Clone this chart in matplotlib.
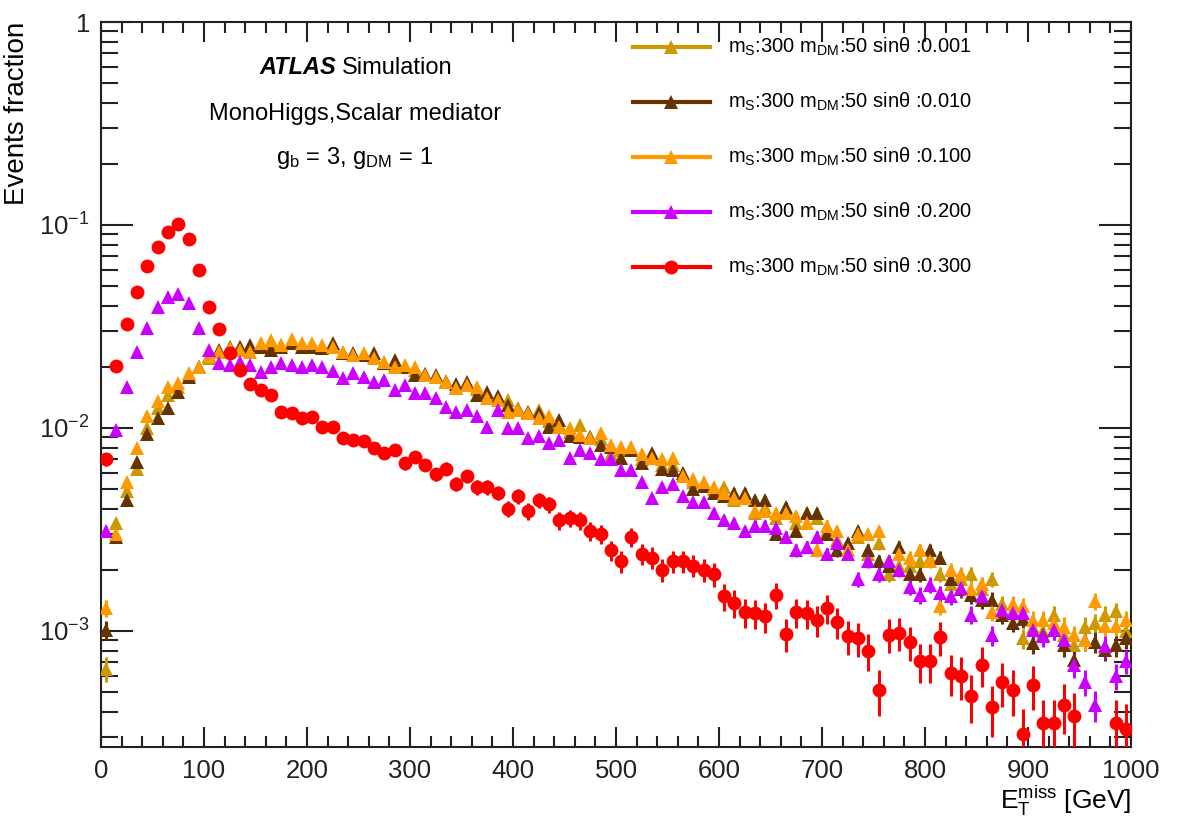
import numpy as np
import matplotlib
matplotlib.use("Agg")
import matplotlib.pyplot as plt
from matplotlib.lines import Line2D
from matplotlib.ticker import FixedLocator, FixedFormatter, LogLocator, NullFormatter, MultipleLocator

plt.rcParams['font.family'] = ['Liberation Sans', 'DejaVu Sans']
plt.rcParams['mathtext.fontset'] = 'custom'
plt.rcParams['mathtext.rm'] = 'Liberation Sans'
plt.rcParams['mathtext.it'] = 'Liberation Sans:italic'
plt.rcParams['mathtext.bf'] = 'Liberation Sans:bold'

# MET bin centres, 10 GeV bins from 0 to 1000
met = np.arange(5, 1000, 10)

sin_theta = ["0.001", "0.010", "0.100", "0.200", "0.300"]

frac_001 = [
    0.00065, 0.0034, 0.0049, 0.0063, 0.0100, 0.0125, 0.0145, 0.0160, 0.0182, 0.0200,
    0.0222, 0.0238, 0.0245, 0.0250, 0.0250, 0.0255, 0.0258, 0.0255, 0.0265, 0.0258,
    0.0255, 0.0250, 0.0255, 0.0235, 0.0230, 0.0230, 0.0225, 0.0210, 0.0205, 0.0200,
    0.0192, 0.0185, 0.0178, 0.0170, 0.0160, 0.0162, 0.0155, 0.0145, 0.0140, 0.0137,
    0.0125, 0.0120, 0.0123, 0.0108, 0.0105, 0.0096, 0.0103, 0.0090, 0.0088, 0.0074,
    0.0078, 0.0080, 0.0070, 0.0072, 0.0066, 0.0066, 0.0058, 0.0054, 0.0053, 0.0050,
    0.0051, 0.0044, 0.0046, 0.0038, 0.0041, 0.0036, 0.0040, 0.0034, 0.0038, 0.0036,
    0.0031, 0.0028, 0.0025, 0.0029, 0.0024, 0.0027, 0.0019, 0.0021, 0.0021, 0.0022,
    0.0023, 0.0019, 0.0017, 0.0018, 0.0019, 0.0016, 0.0018, 0.00135, 0.00125, 0.00092,
    0.00105, 0.00100, 0.00120, 0.00095, 0.00085, 0.00105, 0.00110, 0.00120, 0.00125, 0.00100,
]
frac_010 = [
    0.00101, 0.0029, 0.0044, 0.0068, 0.0093, 0.0112, 0.0125, 0.0151, 0.0179, 0.0200,
    0.0225, 0.0242, 0.0251, 0.0251, 0.0256, 0.0251, 0.0242, 0.0251, 0.0261, 0.0251,
    0.0251, 0.0247, 0.0261, 0.0233, 0.0233, 0.0229, 0.0233, 0.0208, 0.0216, 0.0200,
    0.0182, 0.0185, 0.0182, 0.0169, 0.0165, 0.0169, 0.0145, 0.0150, 0.0143, 0.0130,
    0.0123, 0.0120, 0.0118, 0.0101, 0.0109, 0.0091, 0.0090, 0.0090, 0.0082, 0.0081,
    0.0071, 0.0078, 0.0067, 0.0075, 0.0063, 0.0062, 0.0060, 0.0050, 0.0052, 0.0048,
    0.0046, 0.0048, 0.0048, 0.0044, 0.0044, 0.0030, 0.0041, 0.0031, 0.0038, 0.0038,
    0.0030, 0.0025, 0.0027, 0.0031, 0.0025, 0.0022, 0.0021, 0.0026, 0.0019, 0.0019,
    0.0025, 0.0023, 0.0018, 0.0016, 0.0015, 0.00142, 0.00142, 0.00120, 0.00110, 0.00115,
    0.00087, 0.00095, 0.00101, 0.00085, 0.00072, 0.00090, 0.00088, 0.00081, 0.00085, 0.00092,
]
frac_100 = [
    0.0013, 0.0030, 0.0054, 0.0080, 0.0114, 0.0135, 0.0160, 0.0166, 0.0186, 0.0200,
    0.0225, 0.0238, 0.0247, 0.0242, 0.0238, 0.0261, 0.0271, 0.0256, 0.0273, 0.0261,
    0.0261, 0.0256, 0.0251, 0.0238, 0.0229, 0.0233, 0.0220, 0.0212, 0.0200, 0.0204,
    0.0200, 0.0182, 0.0179, 0.0169, 0.0157, 0.0163, 0.0160, 0.0140, 0.0137, 0.0120,
    0.0123, 0.0118, 0.0112, 0.0114, 0.0101, 0.0100, 0.0092, 0.0089, 0.0094, 0.0082,
    0.0081, 0.0081, 0.0074, 0.0071, 0.0070, 0.0071, 0.0058, 0.0056, 0.0054, 0.0051,
    0.0048, 0.0045, 0.0045, 0.0039, 0.0039, 0.0038, 0.0038, 0.0037, 0.0034, 0.0025,
    0.0033, 0.0031, 0.0025, 0.0030, 0.0030, 0.0031, 0.0022, 0.0024, 0.0023, 0.0025,
    0.0022, 0.00132, 0.0020, 0.0019, 0.0016, 0.0017, 0.00124, 0.00127, 0.00135, 0.00132,
    0.00113, 0.00113, 0.00110, 0.00105, 0.00095, 0.00090, 0.00140, 0.00106, 0.00106, 0.00113,
]
frac_200 = [
    0.0031, 0.0098, 0.0160, 0.0238, 0.0310, 0.0394, 0.0444, 0.0457, 0.0414, 0.0310,
    0.0242, 0.0208, 0.0204, 0.0212, 0.0204, 0.0189, 0.0200, 0.0208, 0.0204, 0.0200,
    0.0204, 0.0200, 0.0191, 0.0176, 0.0186, 0.0179, 0.0169, 0.0172, 0.0154, 0.0163,
    0.0148, 0.0148, 0.0140, 0.0127, 0.0120, 0.0123, 0.0114, 0.0101, 0.0123, 0.0100,
    0.0100, 0.0089, 0.0091, 0.0084, 0.0087, 0.0071, 0.0078, 0.0075, 0.0070, 0.0070,
    0.0062, 0.0062, 0.0054, 0.0045, 0.0051, 0.0053, 0.0046, 0.0043, 0.0043, 0.0038,
    0.0035, 0.0034, 0.0031, 0.0033, 0.0033, 0.0032, 0.0029, 0.0025, 0.0026, 0.0029,
    0.0024, 0.0027, 0.0024, 0.0018, 0.0022, 0.0019, 0.0022, 0.0020, 0.00165, 0.00150,
    0.00169, 0.00153, 0.00148, 0.00162, 0.00120, 0.00148, 0.00095, 0.00127, 0.00122, 0.00122,
    0.00101, 0.00094, 0.00101, 0.00090, 0.00068, 0.00056, 0.00043, 0.00084, 0.00060, 0.00071,
]
# empty bins are left as nan
frac_300 = [
    0.0070, 0.0202, 0.0325, 0.047, 0.0628, 0.0777, 0.092, 0.101, 0.085, 0.060,
    0.0396, 0.0306, 0.0233, 0.0193, 0.0164, 0.0153, 0.0145, 0.0120, 0.0118, 0.0112,
    0.0113, 0.0101, 0.0101, 0.0089, 0.0087, 0.0086, 0.0080, 0.0075, 0.0078, 0.0067,
    0.0072, 0.0066, 0.0059, 0.0063, 0.0053, 0.0058, 0.0051, 0.0051, 0.0048, 0.0040,
    0.0046, 0.0039, 0.0044, 0.0042, 0.0035, 0.0036, 0.0035, 0.0031, 0.0030, 0.0025,
    0.0022, 0.0029, 0.0024, 0.0023, 0.0020, 0.0022, 0.0022, 0.0021, 0.0020, 0.0019,
    0.00148, 0.00137, 0.00124, 0.00122, 0.00118, 0.00150, 0.00097, 0.00124, 0.00122, 0.00113,
    0.00129, 0.00111, 0.00094, 0.00092, 0.00080, 0.00051, 0.00096, 0.00098, 0.00088, 0.00071,
    0.00071, 0.00093, 0.00062, 0.00060, 0.00048, 0.00068, 0.00042, 0.00056, 0.00051, 0.00031,
    0.00054, 0.00035, 0.00035, 0.00043, 0.00038, np.nan, np.nan, np.nan, 0.00035, 0.00033,
]

# number of MC events per sample (sets the stat. error bars)
n_events = [80000, 80000, 80000, 80000, 30000]

fractions = [frac_001, frac_010, frac_100, frac_200, frac_300]
colors = ["#cc9900", "#663300", "#ff9900", "#cc00ff", "#ff0000"]
markers = ["^", "^", "^", "^", "o"]
msizes = [9.5, 9.5, 9.5, 9.5, 10]

fig = plt.figure(figsize=(11.77, 8.16), dpi=100)
W, H = 1177.0, 816.0
ax = fig.add_axes([101 / W, 69 / H, 1030 / W, 725 / H])

for frac, n, c, m, ms in zip(fractions, n_events, colors, markers, msizes):
    y = np.array(frac)
    err = np.sqrt(y / n)
    ax.errorbar(met, y, yerr=err, fmt=m, color=c, ms=ms, mew=0,
                elinewidth=2.2, capsize=3.2, capthick=2.2, zorder=3)

ax.set_yscale("log")
ax.set_xlim(0, 1000)
ax.set_ylim(2.68e-4, 1)

ax.xaxis.set_major_locator(MultipleLocator(100))
ax.xaxis.set_minor_locator(MultipleLocator(20))
ax.yaxis.set_major_locator(FixedLocator([1e-3, 1e-2, 1e-1, 1]))
ax.yaxis.set_major_formatter(FixedFormatter([r"$\mathregular{10^{-3}}$", r"$\mathregular{10^{-2}}$",
                                             r"$\mathregular{10^{-1}}$", "1"]))
ax.yaxis.set_minor_locator(LogLocator(base=10, subs=np.arange(2, 10), numticks=20))
ax.yaxis.set_minor_formatter(NullFormatter())

ax.tick_params(which="both", direction="in", top=True, right=True, width=1.5, colors="#222222")
ax.tick_params(axis="x", which="major", length=14.5, labelsize=18.5, pad=9)
ax.tick_params(axis="x", which="minor", length=8)
ax.tick_params(axis="y", which="major", length=23, labelsize=18.5, pad=8)
ax.tick_params(axis="y", which="minor", length=12.5)
for sp in ax.spines.values():
    sp.set_linewidth(1.5)
    sp.set_color("#222222")

ax.set_ylabel("Events fraction", fontsize=20, loc="top")
ax.yaxis.set_label_coords(-0.069, 1.0)
fig.text(1131 / W, 1 - 809 / H, r"$\mathregular{E_{T}^{miss}}$ [GeV]", fontsize=19,
         ha="right", va="baseline")

# header text
fig.text(336 / W, 1 - 68 / H, "ATLAS", fontsize=17, fontweight="bold", fontstyle="italic",
         ha="right", va="center")
fig.text(342 / W, 1 - 68 / H, "Simulation", fontsize=17, ha="left", va="center")
fig.text(355 / W, 1 - 114 / H, "MonoHiggs,Scalar mediator", fontsize=17, ha="center", va="center")
fig.text(355 / W, 1 - 158 / H, r"$\mathregular{g_{b}}$ = 3, $\mathregular{g_{DM}}$ = 1", fontsize=17,
         ha="center", va="center")

# legend: line + marker, then label
for i, (s, c, m, ms) in enumerate(zip(sin_theta, colors, markers, msizes)):
    yy = 1 - (47 + 55 * i) / H
    fig.add_artist(Line2D([633 / W, 710 / W], [yy, yy], transform=fig.transFigure,
                          color=c, lw=3))
    fig.add_artist(Line2D([671 / W], [yy], transform=fig.transFigure, color=c,
                          marker=m, ms=ms, mew=0, ls="none"))
    fig.text(728 / W, yy, r"$\mathregular{m_{S}}$:300 $\mathregular{m_{DM}}$:50 sin$\mathregular{\theta}$ :" + s,
             fontsize=14.5, ha="left", va="center")

fig.savefig("out.png", dpi=100)
